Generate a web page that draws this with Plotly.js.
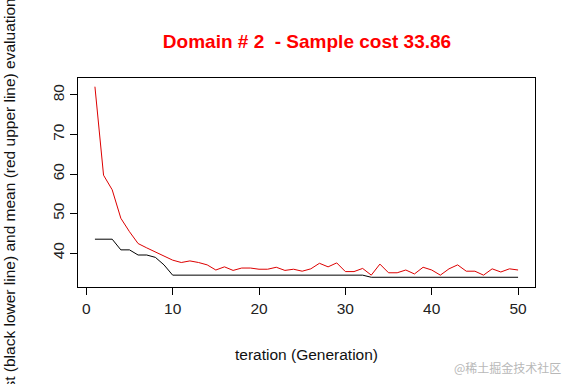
<!DOCTYPE html>
<html>
<head>
<meta charset="utf-8">
<script src="https://cdn.plot.ly/plotly-3.0.1.min.js"></script>
<style>html,body{margin:0;padding:0;background:#fff;}#chart{width:576px;height:384px;}</style>
</head>
<body>
<div id="chart"></div>
<script>
var generations = [];
for (var g = 1; g <= 50; g++) generations.push(g);
var meanValues = [82.1, 59.7, 56.0, 48.8, 45.4, 42.4, 41.3, 40.3, 39.3, 38.2,
                  37.6, 38.0, 37.6, 37.0, 35.7, 36.5, 35.6, 36.2, 36.2, 35.9,
                  35.9, 36.4, 35.6, 35.9, 35.4, 36.0, 37.4, 36.5, 37.5, 35.3,
                  35.3, 36.1, 34.4, 37.2, 35.0, 35.0, 35.7, 34.7, 36.4, 35.7,
                  34.4, 36.0, 37.0, 35.4, 35.4, 34.4, 36.0, 35.2, 36.0, 35.7];
var bestValues = [43.5, 43.5, 43.5, 40.8, 40.8, 39.5, 39.5, 38.9, 37.0, 34.4,
                  34.4, 34.4, 34.4, 34.4, 34.4, 34.4, 34.4, 34.4, 34.4, 34.4,
                  34.4, 34.4, 34.4, 34.4, 34.4, 34.4, 34.4, 34.4, 34.4, 34.4,
                  34.4, 34.4, 33.86, 33.86, 33.86, 33.86, 33.86, 33.86, 33.86, 33.86,
                  33.86, 33.86, 33.86, 33.86, 33.86, 33.86, 33.86, 33.86, 33.86, 33.86];
var xTicks = [0, 10, 20, 30, 40, 50];
var yTicks = [40, 50, 60, 70, 80];
var titleText = "Domain # 2&nbsp; - Sample cost 33.86";
var xLabel = "teration (Generation)";
var yLabel = "Best (black lower line) and mean (red upper line) evaluation value";
var watermark = "@稀土掘金技术社区";

var traces = [
  {x: generations, y: meanValues, type: "scatter", mode: "lines",
   line: {color: "#dd0000", width: 1}, hoverinfo: "skip"},
  {x: generations, y: bestValues, type: "scatter", mode: "lines",
   line: {color: "#000000", width: 1}, hoverinfo: "skip"}
];

var font = "Liberation Sans, Arial, sans-serif";
var fs = 15.5;
var layout = {
  width: 576, height: 384,
  margin: {l: 78, r: 41, t: 78, b: 97},
  paper_bgcolor: "#fff", plot_bgcolor: "#fff",
  showlegend: false,
  font: {family: font, color: "#222", size: fs},
  title: {text: "<b>" + titleText + "</b>", font: {family: font, size: 19, color: "#ff0000"},
          x: 307/576, xanchor: "center", y: 1 - 41/384, yanchor: "middle", xref: "container", yref: "container"},
  xaxis: {range: [-0.96, 51.96], tickvals: xTicks, ticks: "outside", ticklen: 7, tickcolor: "#000",
          showgrid: false, zeroline: false, showline: true, linecolor: "#000", linewidth: 1, mirror: true,
          tickfont: {size: fs, color: "#222", family: font}},
  yaxis: {range: [31.4, 84.3], tickvals: yTicks, ticks: "outside", ticklen: 7, tickcolor: "#000",
          tickangle: -90, showgrid: false, zeroline: false, showline: true, linecolor: "#000", linewidth: 1, mirror: true,
          tickfont: {size: fs, color: "#222", family: font}},
  annotations: [
    {text: xLabel, xref: "paper", yref: "paper", x: 0.5, y: -(354-287)/209, xanchor: "center", yanchor: "middle",
     showarrow: false, font: {size: fs, color: "#111", family: font}},
    {text: yLabel, xref: "paper", yref: "paper", x: (9-78)/457, y: 0.5, xanchor: "center", yanchor: "middle",
     textangle: -90, showarrow: false, font: {size: fs, color: "#111", family: font}},
    {text: watermark, xref: "paper", yref: "paper", x: (563-78)/457, y: -(367-287)/209, xanchor: "right", yanchor: "middle",
     showarrow: false, font: {size: 12, color: "#b8b8b8", family: "Noto Sans CJK SC, sans-serif"}}
  ]
};
Plotly.newPlot("chart", traces, layout, {staticPlot: true, displayModeBar: false});
</script>
</body>
</html>
